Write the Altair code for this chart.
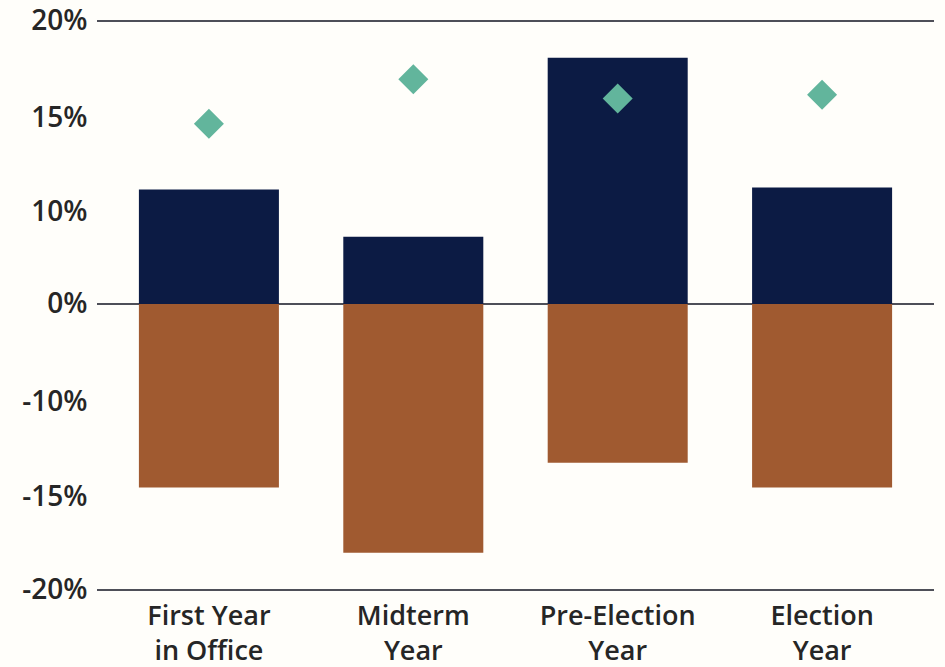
import altair as alt
import pandas as pd

categories = ["First Year in Office", "Midterm Year", "Pre-Election Year", "Election Year"]
label_lines = [["First Year", "in Office"], ["Midterm", "Year"], ["Pre-Election", "Year"], ["Election", "Year"]]
positive = [11.2, 7.3, 18.1, 11.3]
negative = [-14.5, -18.0, -13.2, -14.5]
diamond = [14.7, 17.0, 16.0, 16.2]
tick_values = [-20, -15, -10, 0, 10, 15, 20]
gridlines = [-20, 0, 20]

NAVY = "#0c1b44"
BROWN = "#a05a30"
TEAL = "#62b59c"
TEXT = "#262626"
FONT = "Open Sans"

W, H = 837, 569
# piecewise (unevenly labelled) axis: evenly spaced tick labels, as in the original
y_range = [H, 476, 381, 283, 191, 97, 0]

bars = pd.DataFrame({
    "category": categories + categories,
    "value": positive + negative,
    "kind": ["pos"] * len(categories) + ["neg"] * len(categories),
})
points = pd.DataFrame({"category": categories, "value": diamond})
grid = pd.DataFrame({"v": gridlines})

label_expr = ""
for cat, lines in zip(categories, label_lines):
    arr = "[" + ",".join("'" + s + "'" for s in lines) + "]"
    label_expr += f"datum.value == '{cat}' ? {arr} : "
label_expr += "datum.label"

yscale = alt.Scale(domain=tick_values, range=y_range, nice=False, zero=False)
yaxis = alt.Axis(
    values=tick_values,
    labelExpr="datum.value + '%'",
    grid=False, domain=False, ticks=False,
    labelPadding=10, labelFontSize=28, labelFont=FONT, labelFontWeight=600,
    labelColor=TEXT, title=None,
)
xscale = alt.Scale(domain=categories, paddingInner=0.315, paddingOuter=0.205)
xaxis = alt.Axis(
    labelExpr=label_expr, labelAngle=0, domain=False, ticks=False,
    labelPadding=13, labelFontSize=27, labelFont=FONT, labelFontWeight=600,
    labelColor=TEXT, labelLineHeight=35, title=None, labelBaseline="top",
)

rules = alt.Chart(grid).mark_rule(color="#4e4f58", strokeWidth=2).encode(
    y=alt.Y("v:Q", scale=yscale, axis=yaxis)
)

bar_layer = alt.Chart(bars).mark_bar().encode(
    x=alt.X("category:N", scale=xscale, axis=xaxis, sort=categories),
    y=alt.Y("value:Q", scale=yscale),
    y2=alt.datum(0),
    color=alt.Color("kind:N", scale=alt.Scale(domain=["pos", "neg"], range=[NAVY, BROWN]), legend=None),
)

point_layer = alt.Chart(points).mark_point(
    shape="diamond", filled=True, size=900, color=TEAL, opacity=1
).encode(
    x=alt.X("category:N", scale=xscale, sort=categories),
    y=alt.Y("value:Q", scale=yscale),
)

chart = alt.layer(rules, bar_layer, point_layer).properties(
    width=W, height=H,
    autosize=alt.AutoSizeParams(type="none"),
    padding={"left": 97, "top": 21, "right": 11, "bottom": 77},
    background="#fffefa",
).configure_view(stroke=None)

chart.save("out.html", embed_options={"renderer": "svg", "actions": False})
